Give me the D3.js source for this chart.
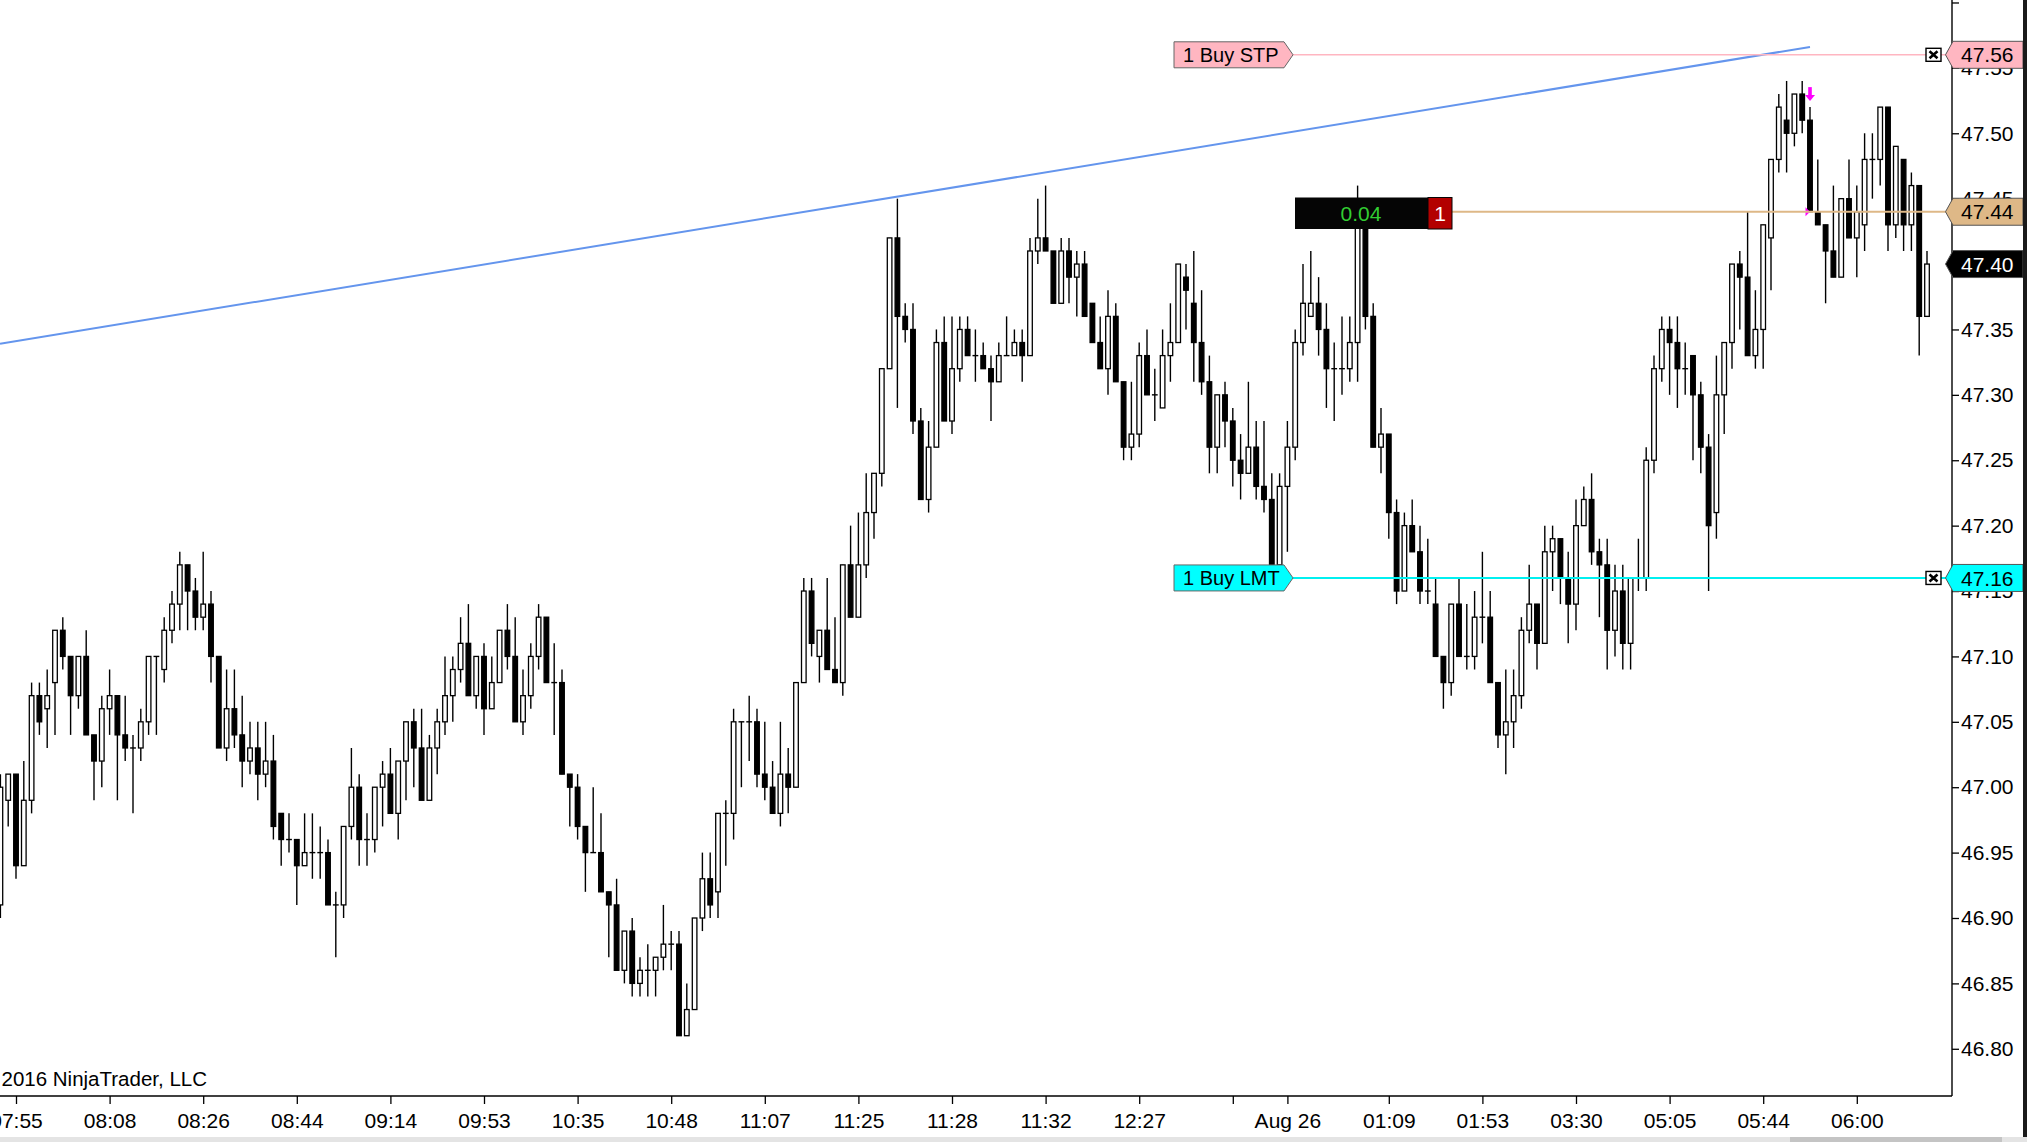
<!DOCTYPE html>
<html>
<head>
<meta charset="utf-8">
<script src="https://d3js.org/d3.v7.min.js"></script>
<style>
  html, body { margin: 0; padding: 0; background: #fff; }
  svg { display: block; }
  text { font-family: "Liberation Sans", Arial, sans-serif; }
</style>
</head>
<body>
<script>
// ---- data ----
const opens = [
46.91,46.99,47.01,46.94,46.99,47.07,47.06,47.08,47.12,47.10,
47.07,47.10,47.04,47.02,47.06,47.07,47.04,47.03,47.03,47.05,
47.10,47.09,47.12,47.14,47.17,47.15,47.13,47.14,47.10,47.03,
47.06,47.04,47.02,47.03,47.01,47.02,46.98,46.96,46.96,46.94,
46.95,46.95,46.95,46.91,46.91,46.97,47.00,46.96,46.96,47.00,
47.01,46.98,47.02,47.05,47.03,46.99,47.03,47.05,47.07,47.09,
47.11,47.07,47.10,47.06,47.08,47.12,47.10,47.05,47.07,47.10,
47.13,47.08,47.08,47.01,47.00,46.97,46.95,46.95,46.92,46.91,
46.86,46.89,46.85,46.86,46.86,46.87,46.88,46.88,46.81,46.83,
46.90,46.93,46.92,46.98,46.98,47.05,47.05,47.05,47.01,47.00,
46.98,47.01,47.00,47.08,47.15,47.10,47.12,47.09,47.08,47.17,
47.13,47.17,47.21,47.24,47.32,47.42,47.36,47.35,47.28,47.22,
47.26,47.34,47.28,47.32,47.35,47.33,47.33,47.32,47.31,47.33,
47.33,47.34,47.33,47.41,47.42,47.41,47.37,47.41,47.39,47.40,
47.37,47.34,47.32,47.36,47.31,47.26,47.27,47.33,47.30,47.29,
47.33,47.34,47.39,47.37,47.34,47.31,47.26,47.30,47.28,47.25,
47.24,47.26,47.23,47.22,47.17,47.23,47.26,47.34,47.36,47.37,
47.35,47.32,47.32,47.32,47.34,47.44,47.36,47.26,47.27,47.21,
47.15,47.20,47.18,47.15,47.14,47.10,47.08,47.14,47.10,47.10,
47.13,47.13,47.08,47.04,47.05,47.07,47.12,47.14,47.11,47.18,
47.19,47.16,47.14,47.20,47.22,47.18,47.17,47.12,47.15,47.11,
47.16,47.16,47.25,47.32,47.35,47.34,47.32,47.33,47.30,47.26,
47.21,47.30,47.34,47.40,47.39,47.33,47.35,47.42,47.48,47.51,
47.50,47.53,47.51,47.44,47.43,47.41,47.39,47.45,47.42,47.43,
47.48,47.48,47.52,47.43,47.48,47.43,47.46,47.36];
const highs = [
47.01,47.01,47.01,47.02,47.08,47.08,47.09,47.12,47.13,47.10,
47.10,47.12,47.04,47.07,47.09,47.07,47.07,47.04,47.06,47.10,
47.10,47.13,47.15,47.18,47.17,47.16,47.18,47.15,47.10,47.09,
47.09,47.07,47.05,47.05,47.05,47.04,46.98,46.98,46.96,46.98,
46.98,46.97,46.96,46.92,46.97,47.03,47.01,46.98,47.00,47.02,
47.03,47.02,47.05,47.06,47.06,47.04,47.06,47.10,47.10,47.13,
47.14,47.10,47.11,47.10,47.12,47.14,47.13,47.09,47.11,47.14,
47.13,47.11,47.09,47.01,47.01,46.97,47.00,46.98,46.92,46.93,
46.89,46.90,46.87,46.88,46.87,46.91,46.89,46.89,46.85,46.90,
46.95,46.95,46.98,46.99,47.06,47.05,47.07,47.06,47.05,47.02,
47.05,47.03,47.08,47.16,47.16,47.12,47.16,47.13,47.17,47.20,
47.21,47.24,47.24,47.32,47.42,47.45,47.37,47.37,47.29,47.28,
47.35,47.36,47.36,47.36,47.36,47.35,47.34,47.33,47.34,47.36,
47.35,47.35,47.42,47.45,47.46,47.41,47.42,47.42,47.41,47.41,
47.37,47.36,47.38,47.37,47.31,47.31,47.34,47.35,47.32,47.35,
47.37,47.40,47.40,47.41,47.38,47.33,47.30,47.31,47.29,47.27,
47.31,47.28,47.28,47.24,47.24,47.28,47.35,47.40,47.41,47.39,
47.37,47.34,47.36,47.36,47.46,47.44,47.37,47.29,47.27,47.22,
47.21,47.22,47.20,47.19,47.16,47.10,47.14,47.16,47.14,47.15,
47.18,47.15,47.08,47.09,47.09,47.13,47.17,47.14,47.20,47.20,
47.19,47.18,47.22,47.23,47.24,47.19,47.19,47.17,47.17,47.16,
47.19,47.26,47.33,47.36,47.36,47.36,47.34,47.33,47.31,47.27,
47.33,47.34,47.40,47.41,47.44,47.38,47.43,47.48,47.53,47.54,
47.53,47.54,47.52,47.48,47.43,47.46,47.45,47.48,47.46,47.50,
47.50,47.52,47.52,47.49,47.48,47.47,47.46,47.41];
const lows = [
46.90,46.97,46.93,46.94,46.98,47.04,47.03,47.04,47.09,47.04,
47.06,47.04,46.99,47.00,47.04,46.99,47.02,46.98,47.02,47.04,
47.04,47.08,47.11,47.12,47.12,47.12,47.12,47.08,47.03,47.02,
47.03,47.00,47.01,46.99,47.00,46.96,46.94,46.95,46.91,46.94,
46.93,46.93,46.91,46.87,46.90,46.96,46.94,46.94,46.95,46.97,
46.98,46.96,46.99,47.00,46.99,46.99,47.01,47.04,47.05,47.08,
47.07,47.06,47.04,47.06,47.08,47.09,47.05,47.04,47.06,47.09,
47.08,47.04,47.01,46.97,46.96,46.92,46.95,46.92,46.87,46.86,
46.85,46.84,46.84,46.84,46.84,46.86,46.86,46.81,46.81,46.83,
46.89,46.90,46.90,46.94,46.96,47.00,47.02,47.00,46.99,46.98,
46.97,46.98,47.00,47.08,47.10,47.08,47.09,47.08,47.07,47.13,
47.13,47.16,47.19,47.23,47.32,47.29,47.34,47.27,47.22,47.21,
47.26,47.28,47.27,47.31,47.33,47.31,47.32,47.28,47.31,47.33,
47.33,47.31,47.33,47.40,47.41,47.37,47.37,47.37,47.36,47.36,
47.34,47.32,47.30,47.31,47.25,47.25,47.26,47.30,47.28,47.29,
47.31,47.34,47.35,47.31,47.30,47.24,47.24,47.26,47.23,47.22,
47.24,47.22,47.21,47.16,47.16,47.18,47.25,47.33,47.36,47.33,
47.29,47.28,47.30,47.31,47.31,47.35,47.26,47.24,47.19,47.14,
47.15,47.18,47.14,47.14,47.10,47.06,47.07,47.10,47.09,47.09,
47.11,47.08,47.03,47.01,47.03,47.06,47.11,47.09,47.11,47.15,
47.14,47.11,47.12,47.20,47.17,47.13,47.09,47.10,47.09,47.09,
47.15,47.15,47.24,47.31,47.30,47.29,47.30,47.25,47.24,47.15,
47.19,47.27,47.32,47.35,47.33,47.32,47.32,47.38,47.47,47.47,
47.49,47.50,47.44,47.43,47.37,47.39,47.39,47.42,47.39,47.41,
47.45,47.46,47.41,47.42,47.41,47.41,47.33,47.36];
const closes = [
47.00,47.01,46.94,46.99,47.07,47.05,47.07,47.12,47.10,47.07,
47.10,47.04,47.02,47.06,47.07,47.04,47.03,47.03,47.05,47.10,
47.10,47.12,47.14,47.17,47.15,47.13,47.14,47.10,47.03,47.06,
47.04,47.02,47.03,47.01,47.02,46.97,46.96,46.96,46.94,46.95,
46.95,46.95,46.91,46.91,46.97,47.00,46.96,46.96,47.00,47.01,
46.98,47.02,47.05,47.03,46.99,47.03,47.05,47.07,47.09,47.11,
47.07,47.10,47.06,47.08,47.12,47.10,47.05,47.07,47.10,47.13,
47.08,47.08,47.01,47.00,46.97,46.95,46.95,46.92,46.91,46.86,
46.89,46.85,46.86,46.86,46.87,46.88,46.88,46.81,46.83,46.90,
46.93,46.91,46.98,46.98,47.05,47.05,47.05,47.01,47.00,46.98,
47.01,47.00,47.08,47.15,47.11,47.12,47.09,47.08,47.17,47.13,
47.17,47.21,47.24,47.32,47.42,47.36,47.35,47.28,47.22,47.26,
47.34,47.28,47.32,47.35,47.33,47.33,47.32,47.31,47.33,47.33,
47.34,47.33,47.41,47.42,47.41,47.37,47.41,47.39,47.40,47.36,
47.34,47.32,47.36,47.31,47.26,47.27,47.33,47.30,47.30,47.33,
47.34,47.40,47.38,47.34,47.31,47.26,47.30,47.28,47.25,47.24,
47.26,47.23,47.22,47.17,47.23,47.26,47.34,47.37,47.37,47.35,
47.32,47.32,47.32,47.34,47.44,47.36,47.26,47.27,47.21,47.15,
47.20,47.18,47.15,47.15,47.10,47.08,47.14,47.10,47.10,47.13,
47.13,47.08,47.04,47.05,47.07,47.12,47.14,47.11,47.18,47.19,
47.16,47.14,47.20,47.22,47.18,47.17,47.12,47.15,47.11,47.16,
47.16,47.25,47.32,47.35,47.34,47.32,47.32,47.30,47.26,47.20,
47.30,47.34,47.40,47.39,47.33,47.35,47.43,47.48,47.52,47.50,
47.53,47.51,47.44,47.43,47.41,47.39,47.45,47.42,47.44,47.48,
47.48,47.52,47.43,47.49,47.43,47.46,47.36,47.40];

const timeTickBars   = [2,14,26,38,50,62,74,86,98,110,122,134,146,158,165,178,190,202,214,226,238];
const timeTickLabels = ["07:55","08:08","08:26","08:44","09:14","09:53","10:35","10:48","11:07","11:25","11:28","11:32","12:27","","Aug 26","01:09","01:53","03:30","05:05","05:44","06:00"];
const priceTicks = [46.80,46.85,46.90,46.95,47.00,47.05,47.10,47.15,47.20,47.25,47.30,47.35,47.40,47.45,47.50,47.55,47.60];
const trendBars   = [-0.05, 232];
const trendPrices = [47.339, 47.566];
const stopPrice = 47.56, limitPrice = 47.16, entryPrice = 47.44, lastPrice = 47.40;
const signalBar = 232;
const pnlText = "0.04", qtyText = "1";

// ---- drawing ----
const W = 2027, H = 1142;
const plotR = 1952, plotB = 1096;
const FONT = '"Liberation Sans", Arial, sans-serif';

const svg = d3.select("body").append("svg").attr("width", W).attr("height", H);
svg.append("rect").attr("width", W).attr("height", H).attr("fill", "#fff");

const x = d3.scaleLinear().domain([0, opens.length - 1]).range([0.4, 1927]);
const y = d3.scaleLinear().domain([46.7639, 47.6019]).range([plotB, 0]);

svg.append("defs").append("clipPath").attr("id", "plotClip")
  .append("rect").attr("x", 0).attr("y", 0).attr("width", plotR).attr("height", plotB);

const plot = svg.append("g").attr("clip-path", "url(#plotClip)");

// trend line
plot.append("line")
  .attr("x1", x(trendBars[0])).attr("y1", y(trendPrices[0]))
  .attr("x2", x(trendBars[1])).attr("y2", y(trendPrices[1]))
  .attr("stroke", "#6495ED").attr("stroke-width", 2);

// candles
const bars = d3.range(opens.length).map(i => ({i, o: opens[i], h: highs[i], l: lows[i], c: closes[i]}));
const bw = 4.6;
const cg = plot.append("g");
cg.selectAll("line.wick").data(bars).join("line").attr("class", "wick")
  .attr("x1", d => x(d.i)).attr("x2", d => x(d.i))
  .attr("y1", d => y(d.h)).attr("y2", d => y(d.l))
  .attr("stroke", "#000").attr("stroke-width", 1.4);
cg.selectAll("rect.body").data(bars.filter(d => d.o !== d.c)).join("rect").attr("class", "body")
  .attr("x", d => x(d.i) - bw / 2)
  .attr("y", d => y(Math.max(d.o, d.c)))
  .attr("width", bw)
  .attr("height", d => Math.abs(y(d.o) - y(d.c)))
  .attr("fill", d => d.c > d.o ? "#fff" : "#000")
  .attr("stroke", "#000").attr("stroke-width", 1.3);
cg.selectAll("line.doji").data(bars.filter(d => d.o === d.c)).join("line").attr("class", "doji")
  .attr("x1", d => x(d.i) - bw / 2 - 0.6).attr("x2", d => x(d.i) + bw / 2 + 0.6)
  .attr("y1", d => y(d.o)).attr("y2", d => y(d.o))
  .attr("stroke", "#000").attr("stroke-width", 1.4);

// signal arrow (magenta) above bar
{
  const sx = x(signalBar), tip = y(highs[signalBar]) - 6;
  plot.append("rect").attr("x", sx - 1.8).attr("y", tip - 14).attr("width", 3.6).attr("height", 9).attr("fill", "#FF00FF");
  plot.append("path").attr("d", `M${sx - 5},${tip - 6} L${sx + 5},${tip - 6} L${sx},${tip} Z`).attr("fill", "#FF00FF");
  const ey = y(entryPrice);
  plot.append("path").attr("d", `M${sx - 4.5},${ey - 4.5} L${sx},${ey} L${sx - 4.5},${ey + 4.5} Z`).attr("fill", "#FF00FF");
}

// order lines
const labelLeft = 1174, labelRight = 1293;
function orderLine(price, color) {
  plot.append("line").attr("x1", labelRight).attr("x2", plotR)
    .attr("y1", y(price)).attr("y2", y(price))
    .attr("stroke", color).attr("stroke-width", price === limitPrice ? 2 : 1.4);
}
orderLine(stopPrice, "#FFB6C1");
orderLine(limitPrice, "#00F0F0");
// entry/position line
plot.append("line").attr("x1", 1452).attr("x2", plotR)
  .attr("y1", y(entryPrice)).attr("y2", y(entryPrice))
  .attr("stroke", "#DEB887").attr("stroke-width", 2);

function orderLabel(price, text, fill) {
  const cy = y(price), hh = 13;
  svg.append("path")
    .attr("d", `M${labelLeft},${cy - hh} L${labelRight - 9},${cy - hh} L${labelRight},${cy} L${labelRight - 9},${cy + hh} L${labelLeft},${cy + hh} Z`)
    .attr("fill", fill).attr("stroke", "#666").attr("stroke-width", 1);
  svg.append("text").attr("x", labelLeft + 9).attr("y", cy).attr("dy", "0.36em")
    .attr("font-size", 20).attr("fill", "#000").attr("font-family", FONT).text(text);
}
orderLabel(stopPrice, "1 Buy STP", "#FFB6C1");
orderLabel(limitPrice, "1 Buy LMT", "#00FFFF");

function closeBox(price) {
  const cy = y(price), bx = 1926;
  svg.append("rect").attr("x", bx).attr("y", cy - 6.5).attr("width", 15).attr("height", 13)
    .attr("fill", "#fff").attr("stroke", "#000").attr("stroke-width", 1.4);
  svg.append("path").attr("d", `M${bx + 3.5},${cy - 3.5} L${bx + 11.5},${cy + 3.5} M${bx + 11.5},${cy - 3.5} L${bx + 3.5},${cy + 3.5}`)
    .attr("stroke", "#000").attr("stroke-width", 2.6);
}
closeBox(stopPrice);
closeBox(limitPrice);

// P/L box
{
  const top = 197.5, bot = 229;
  svg.append("rect").attr("x", 1295).attr("y", top).attr("width", 133).attr("height", bot - top).attr("fill", "#050505");
  svg.append("rect").attr("x", 1428).attr("y", top).attr("width", 24).attr("height", bot - top).attr("fill", "#B30000")
    .attr("stroke", "#050505").attr("stroke-width", 1);
  svg.append("text").attr("x", 1361).attr("y", (top + bot) / 2).attr("dy", "0.36em").attr("text-anchor", "middle")
    .attr("font-size", 21).attr("fill", "#32CD32").attr("font-family", FONT).text(pnlText);
  svg.append("text").attr("x", 1440).attr("y", (top + bot) / 2).attr("dy", "0.36em").attr("text-anchor", "middle")
    .attr("font-size", 21).attr("fill", "#fff").attr("font-family", FONT).text(qtyText);
}

// copyright (the leading "©" falls off the left edge, as in the original)
svg.append("text").attr("x", 207).attr("y", 1086).attr("text-anchor", "end")
  .attr("font-size", 20.5).attr("fill", "#000").attr("font-family", FONT).text("© 2016 NinjaTrader, LLC");

// axes frame
svg.append("line").attr("x1", 0).attr("x2", plotR).attr("y1", plotB).attr("y2", plotB).attr("stroke", "#000").attr("stroke-width", 1.4);
svg.append("line").attr("x1", plotR).attr("x2", plotR).attr("y1", 0).attr("y2", plotB).attr("stroke", "#000").attr("stroke-width", 1.4);

// right price axis
const yAxis = d3.axisRight(y).tickValues(priceTicks).tickSize(7).tickPadding(2)
  .tickFormat(d => d >= 47.595 ? "" : d3.format(".2f")(d));
const ya = svg.append("g").attr("transform", `translate(${plotR},0)`).call(yAxis);
ya.select(".domain").remove();
ya.selectAll("line").attr("stroke", "#000").attr("stroke-width", 1.3);
ya.selectAll("text").attr("font-size", 21).attr("font-family", FONT).attr("fill", "#000");

// bottom time axis
const xAxis = d3.axisBottom(x).tickValues(timeTickBars).tickSize(8).tickPadding(9)
  .tickFormat((d, i) => timeTickLabels[i]);
const xa = svg.append("g").attr("transform", `translate(0,${plotB})`).call(xAxis);
xa.select(".domain").remove();
xa.selectAll("line").attr("stroke", "#000").attr("stroke-width", 1.3);
xa.selectAll("text").attr("font-size", 21).attr("font-family", FONT).attr("fill", "#000");

// price markers on axis
function priceMarker(price, fill, textColor) {
  const cy = y(price), hh = 13.5, tipX = 1945.5, bodyX = 1953, rx = 2023;
  svg.append("path")
    .attr("d", `M${tipX},${cy} L${bodyX},${cy - hh} L${rx},${cy - hh} L${rx},${cy + hh} L${bodyX},${cy + hh} Z`)
    .attr("fill", fill).attr("stroke", "#555").attr("stroke-width", 1);
  svg.append("text").attr("x", 1961).attr("y", cy).attr("dy", "0.36em")
    .attr("font-size", 21).attr("font-family", FONT).attr("fill", textColor).text(d3.format(".2f")(price));
}
priceMarker(stopPrice, "#FFB6C1", "#000");
priceMarker(entryPrice, "#DEB887", "#000");
priceMarker(lastPrice, "#000", "#fff");
priceMarker(limitPrice, "#00FFFF", "#000");

// right border and bottom strip
svg.append("rect").attr("x", 2023).attr("y", 0).attr("width", 4).attr("height", 1137).attr("fill", "#1a1a1a");
svg.append("rect").attr("x", 0).attr("y", 1137).attr("width", W).attr("height", 5).attr("fill", "#e4e4e4");
svg.append("rect").attr("x", 1790).attr("y", 1137).attr("width", 212).attr("height", 5).attr("fill", "#c4c4c4");
</script>
</body>
</html>
